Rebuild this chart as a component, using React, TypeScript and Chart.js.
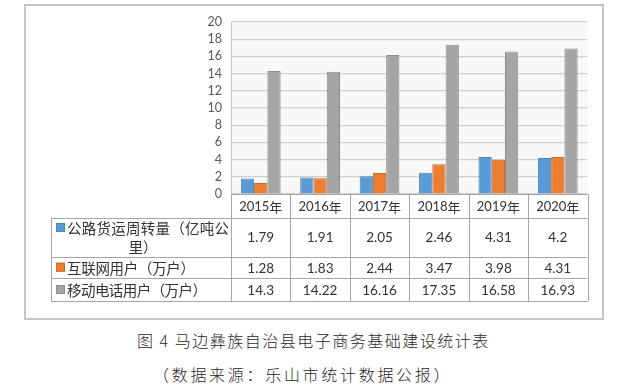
import React, { useEffect, useRef } from "react";
import { Chart, registerables } from "chart.js";

Chart.register(...registerables);

const categories = ["2015年", "2016年", "2017年", "2018年", "2019年", "2020年"];
const freight = [1.79, 1.91, 2.05, 2.46, 4.31, 4.2];
const internet = [1.28, 1.83, 2.44, 3.47, 3.98, 4.31];
const mobile = [14.3, 14.22, 16.16, 17.35, 16.58, 16.93];
const seriesNames = ["公路货运周转量（亿吨公里）", "互联网用户（万户）", "移动电话用户（万户）"];
const seriesColors = ["#5b9bd5", "#ed7d31", "#a5a5a5"];
const seriesBorders = ["#4a84ba", "#c9692a", "#8c8c8c"];

const NUM_FONT = "Lato, 'Open Sans', sans-serif";
const CJK_FONT = "'Noto Sans CJK SC', sans-serif";

const fitText = (ctx: any, text: string, x: number, y: number, targetW: number) => {
  const chars = Array.from(text);
  const widths = chars.map((c) => ctx.measureText(c).width);
  const total = widths.reduce((s, w) => s + w, 0);
  const extra = chars.length > 1 ? (targetW - total) / (chars.length - 1) : 0;
  let cx = x;
  chars.forEach((c, i) => {
    ctx.fillText(c, cx, y);
    cx += widths[i] + extra;
  });
};

const tablePlugin = {
  id: "dataTable",
  beforeDraw(chart: any) {
    const ctx = chart.ctx;
    const a = chart.chartArea;
    ctx.save();
    ctx.fillStyle = "#ffffff";
    ctx.fillRect(0, 0, chart.width, chart.height);
    ctx.fillStyle = "#f8f8f8";
    ctx.fillRect(a.left, a.top, a.right - a.left, a.bottom - a.top);
    ctx.restore();
  },
  afterDraw(chart: any) {
    const ctx = chart.ctx;
    const a = chart.chartArea;
    const xs = chart.scales.x;
    const n = categories.length;
    const colW = (a.right - a.left) / n;
    const legL = 51;
    const yHead0 = a.bottom;
    const yHead1 = 217.5;
    const rowB = [256.5, 278, 301];
    const rowT = [yHead1, rowB[0], rowB[1]];
    const all = [freight, internet, mobile];

    ctx.save();
    ctx.strokeStyle = "#b4b4b4";
    ctx.lineWidth = 1.5;
    ctx.strokeRect(25, 5, 578, 314);

    ctx.strokeStyle = "#a6a6a6";
    ctx.lineWidth = 1;
    const hline = (x0: number, x1: number, y: number) => {
      ctx.beginPath();
      ctx.moveTo(x0, Math.round(y) + 0.5);
      ctx.lineTo(x1, Math.round(y) + 0.5);
      ctx.stroke();
    };
    const vline = (x: number, y0: number, y1: number) => {
      ctx.beginPath();
      ctx.moveTo(Math.round(x) + 0.5, y0);
      ctx.lineTo(Math.round(x) + 0.5, y1);
      ctx.stroke();
    };
    hline(a.left, a.right, yHead0);
    hline(legL, a.right, yHead1);
    rowB.forEach((y) => hline(legL, a.right, y));
    for (let i = 0; i <= n; i++) vline(a.left + i * colW, yHead0, rowB[2] + 0.5);
    vline(legL, yHead1, rowB[2] + 0.5);

    ctx.fillStyle = "#333333";
    ctx.textBaseline = "middle";
    categories.forEach((c, i) => {
      const cx = xs.getPixelForValue(i);
      const y = (yHead0 + yHead1) / 2 + 1;
      const num = c.replace("年", "");
      ctx.font = `13px ${NUM_FONT}`;
      const w1 = ctx.measureText(num).width;
      ctx.font = `13px ${CJK_FONT}`;
      const w2 = ctx.measureText("年").width;
      const start = cx - (w1 + w2) / 2;
      ctx.textAlign = "left";
      ctx.font = `13px ${NUM_FONT}`;
      ctx.fillText(num, start, y);
      ctx.font = `13px ${CJK_FONT}`;
      ctx.fillText("年", start + w1, y);
    });

    ctx.textAlign = "center";
    ctx.font = `13.5px ${NUM_FONT}`;
    all.forEach((arr, r) => {
      const cy = (rowT[r] + rowB[r]) / 2 + 1;
      arr.forEach((v, i) => {
        ctx.fillText(String(v), xs.getPixelForValue(i), cy);
      });
    });

    ctx.font = `14.5px ${CJK_FONT}`;
    ctx.textAlign = "left";
    const keyX = 56;
    const textX = 67;
    const drawKey = (r: number, cy: number) => {
      ctx.fillStyle = seriesColors[r];
      ctx.fillRect(keyX, cy - 4.5, 9, 9);
      ctx.strokeStyle = seriesBorders[r];
      ctx.lineWidth = 1;
      ctx.strokeRect(keyX + 0.5, cy - 4, 8, 8);
    };
    const r1a = 227.5;
    const r1b = 246.5;
    drawKey(0, r1a);
    ctx.fillStyle = "#333333";
    fitText(ctx, "公路货运周转量（亿吨公", textX, r1a + 1, 162);
    ctx.textAlign = "center";
    ctx.fillText("里）", 143, r1b + 1);
    ctx.textAlign = "left";
    const rowW = [0, 128, 140];
    for (let r = 1; r < 3; r++) {
      const cy = (rowT[r] + rowB[r]) / 2;
      drawKey(r, cy);
      ctx.fillStyle = "#333333";
      fitText(ctx, seriesNames[r], textX, cy + 1, rowW[r]);
    }
    ctx.restore();
  },
};

export default function App() {
  const ref = useRef<HTMLCanvasElement | null>(null);
  useEffect(() => {
    if (!ref.current) return;
    const chart = new Chart(ref.current, {
      type: "bar",
      data: {
        labels: categories,
        datasets: [freight, internet, mobile].map((d, i) => ({
          label: seriesNames[i],
          data: d,
          backgroundColor: seriesColors[i],
          borderColor: seriesBorders[i],
          borderWidth: 1,
          categoryPercentage: 0.67,
          barPercentage: 1.0,
        })),
      },
      options: {
        responsive: false,
        animation: false,
        devicePixelRatio: 1,
        layout: { padding: { left: 0, right: 49.5, top: 22, bottom: 0 } },
        plugins: { legend: { display: false }, tooltip: { enabled: false }, title: { display: false } },
        scales: {
          x: {
            ticks: { display: false },
            grid: { display: false },
            border: { display: false },
            afterFit: (s: any) => {
              s.height = 126;
            },
          },
          y: {
            min: 0,
            max: 20,
            ticks: {
              stepSize: 2,
              autoSkip: false,
              padding: 9,
              color: "#595959",
              font: { family: NUM_FONT, size: 12.5 },
            },
            grid: { color: "#cfcfcf", lineWidth: 1.2, drawTicks: false },
            border: { display: true, color: "#c4c4c4" },
            afterFit: (s: any) => {
              s.width = 231;
            },
          },
        },
      },
      plugins: [tablePlugin],
    });
    return () => chart.destroy();
  }, []);

  return (
    <div style={{ position: "absolute", left: 0, top: 0, width: 637, height: 387, background: "#fff" }}>
      <canvas ref={ref} width={637} height={320} style={{ position: "absolute", left: 0, top: 0, width: 637, height: 320 }} />
      <div
        style={{
          position: "absolute",
          left: 137,
          top: 330,
          fontFamily: CJK_FONT,
          fontSize: 16,
          lineHeight: "20px",
          color: "#2a2a2a",
          whiteSpace: "pre",
          fontWeight: 300,
          letterSpacing: "1.5px",
        }}
      >
        图 4 马边彝族自治县电子商务基础建设统计表
      </div>
      <div
        style={{
          position: "absolute",
          left: 153,
          top: 364,
          fontFamily: CJK_FONT,
          fontSize: 16,
          lineHeight: "20px",
          color: "#2a2a2a",
          whiteSpace: "pre",
          fontWeight: 300,
          letterSpacing: "2.7px",
        }}
      >
        （数据来源：乐山市统计数据公报）
      </div>
    </div>
  );
}
